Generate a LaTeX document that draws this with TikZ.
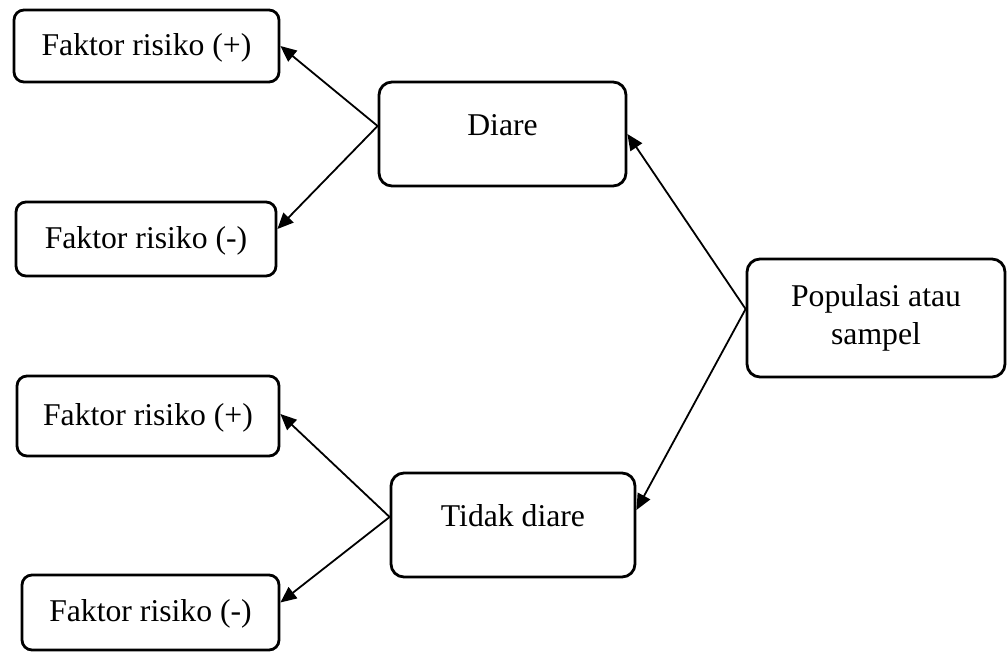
\documentclass[tikz,border=0pt]{standalone}
\usepackage{fontspec}
\setmainfont{Liberation Serif}
\usetikzlibrary{arrows.meta}
\begin{document}
\begin{tikzpicture}[x=1pt,y=-1pt,
  box/.style={draw,line width=2.8pt,rounded corners=10pt,inner sep=0pt,
    font=\fontsize{31.7}{38}\selectfont,align=center},
  fbox/.style={box,text height=22pt,text depth=4pt},
  mbox/.style={box,rounded corners=13pt,text height=21pt,text depth=19pt},
  arr/.style={line width=1.8pt,-{Triangle[length=16pt,width=14pt]}}]
\useasboundingbox (0,0) rectangle (1007,651);
\node[fbox,minimum width=265pt,minimum height=72pt] (f1) at (146.5,46) {Faktor risiko (+)};
\node[fbox,minimum width=260pt,minimum height=74pt] (f2) at (146,239) {Faktor risiko (-)};
\node[fbox,minimum width=262pt,minimum height=80pt] (f3) at (148,416) {Faktor risiko (+)};
\node[fbox,minimum width=257pt,minimum height=75pt] (f4) at (150.5,612.5) {Faktor risiko (-)};
\node[mbox,minimum width=247pt,minimum height=104pt] (d) at (502.5,134) {Diare};
\node[mbox,minimum width=244pt,minimum height=104pt] (t) at (513,525) {Tidak diare};
\node[box,rounded corners=13pt,minimum width=258pt,minimum height=118pt] (p) at (876,318) {Populasi atau\\sampel};
\draw[arr] ([yshift=8pt]d.west) -- (f1.east);
\draw[arr] ([yshift=8pt]d.west) -- ([yshift=10pt]f2.east);
\draw[arr] ([yshift=9pt]p.west) -- (d.east);
\draw[arr] ([yshift=9pt]p.west) -- ([yshift=15pt]t.east);
\draw[arr] ([yshift=8pt]t.west) -- ([yshift=2pt]f3.east);
\draw[arr] ([yshift=8pt]t.west) -- ([yshift=10pt]f4.east);
\end{tikzpicture}
\end{document}
